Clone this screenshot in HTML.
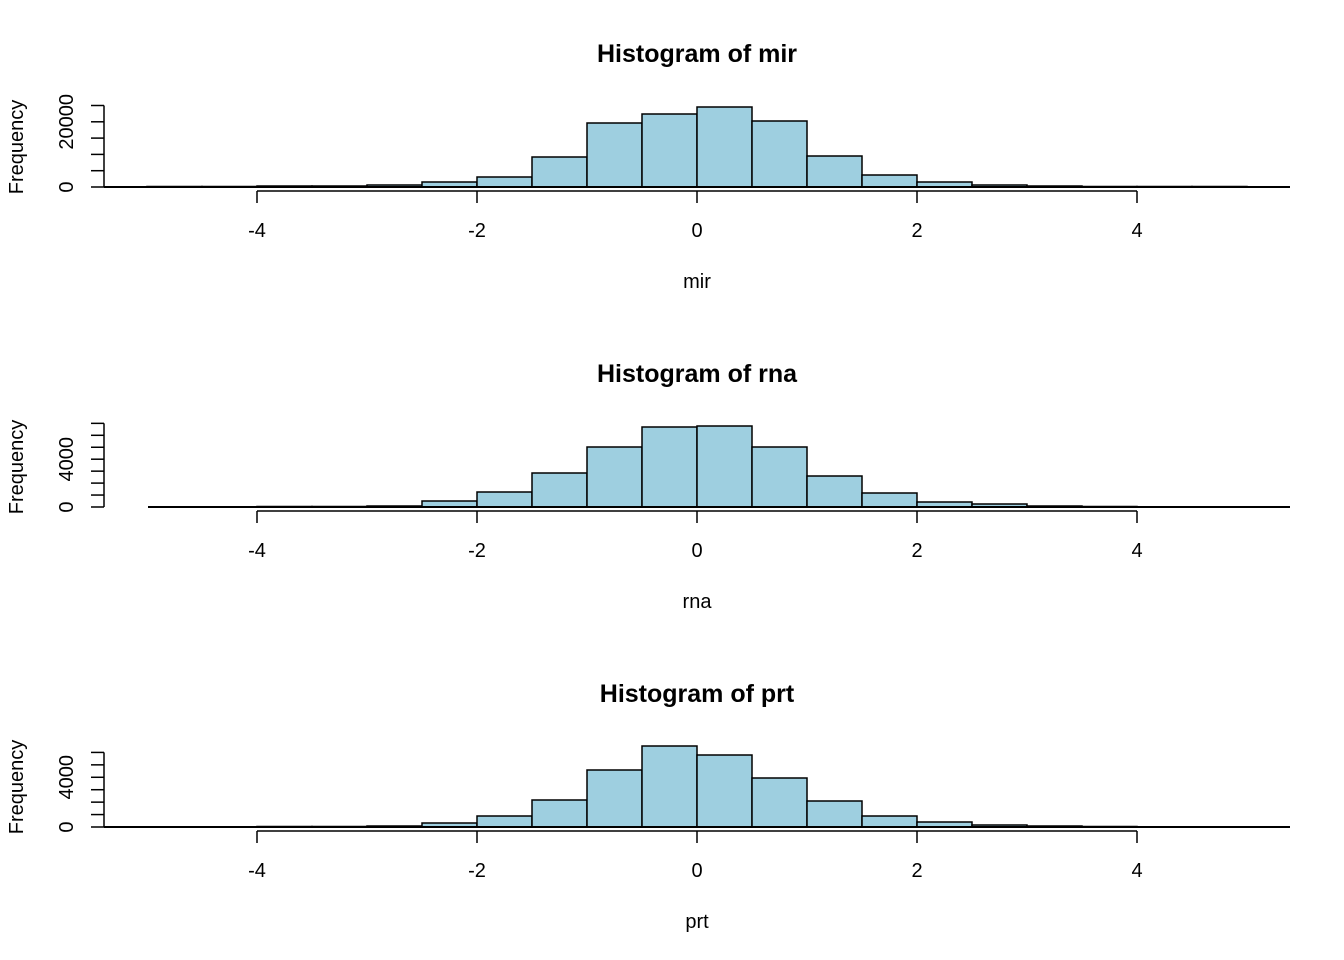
<!DOCTYPE html>
<html><head><style>body{margin:0;background:#fff}svg{display:block}text{font-family:"Liberation Sans",Arial,sans-serif;fill:#000}</style></head>
<body>
<svg width="1344" height="960" viewBox="0 0 1344 960" id="s"></svg>
<script>
const S=document.getElementById('s');let h='';
const X=v=>697+110*v;
const panels=[
 {t:'mir',b:187,x0:104,tops:[186.5,186.5,186,186,185,182,177,157,123,114,107,121,156,175,182,185,186,186.5,186.5,186.5],ticks:6,sp:16.3,labs:[[0,'0'],[4,'20000']]},
 {t:'rna',b:507,x0:148,tops:[507,507,506.5,506.5,506,501,492,473,447,427,426,447,476,493,502,504,506,506.5,507,507],ticks:8,sp:11.95,labs:[[0,'0'],[4,'4000']]},
 {t:'prt',b:827,x0:104,tops:[827,827,826.5,826.5,826,823,816,800,770,746,755,778,801,816,822,825,826,826.5,827,827],ticks:7,sp:12.43,labs:[[0,'0'],[4,'4000']]}
];
panels.forEach((p,i)=>{const o=i*320;const b=p.b;
 h+=`<text x="697" y="${62+o}" text-anchor="middle" font-size="25" font-weight="bold">Histogram of ${p.t}</text>`;
 p.tops.forEach((t,k)=>{const x=X(-5+k*0.5);h+=`<rect x="${x}" y="${t}" width="55" height="${b-t}" fill="#9ecfe0" stroke="#000" stroke-width="1.5"/>`;});
 h+=`<line x1="${p.x0}" y1="${b}" x2="1290" y2="${b}" stroke="#000" stroke-width="2"/>`;
 const top=b-(p.ticks-1)*p.sp;
 h+=`<line x1="104" y1="${top}" x2="104" y2="${b}" stroke="#000" stroke-width="1.5"/>`;
 for(let k=0;k<p.ticks;k++){const y=b-k*p.sp;h+=`<line x1="91" y1="${y}" x2="104" y2="${y}" stroke="#000" stroke-width="1.5"/>`;}
 p.labs.forEach(([k,s])=>{const y=b-k*p.sp;h+=`<text transform="translate(73,${y}) rotate(-90)" text-anchor="middle" font-size="20">${s}</text>`;});
 h+=`<text transform="translate(23,${147+o}) rotate(-90)" text-anchor="middle" font-size="20">Frequency</text>`;
 const ay=191+o;
 h+=`<line x1="${X(-4)}" y1="${ay}" x2="${X(4)}" y2="${ay}" stroke="#000" stroke-width="1.5"/>`;
 [-4,-2,0,2,4].forEach(v=>{h+=`<line x1="${X(v)}" y1="${ay}" x2="${X(v)}" y2="${ay+12}" stroke="#000" stroke-width="1.5"/><text x="${X(v)}" y="${237+o}" text-anchor="middle" font-size="20">${v<0?'-'+(-v):v}</text>`;});
 h+=`<text x="697" y="${288+o}" text-anchor="middle" font-size="20">${p.t}</text>`;
});
S.innerHTML=h;
</script>
</body></html>
